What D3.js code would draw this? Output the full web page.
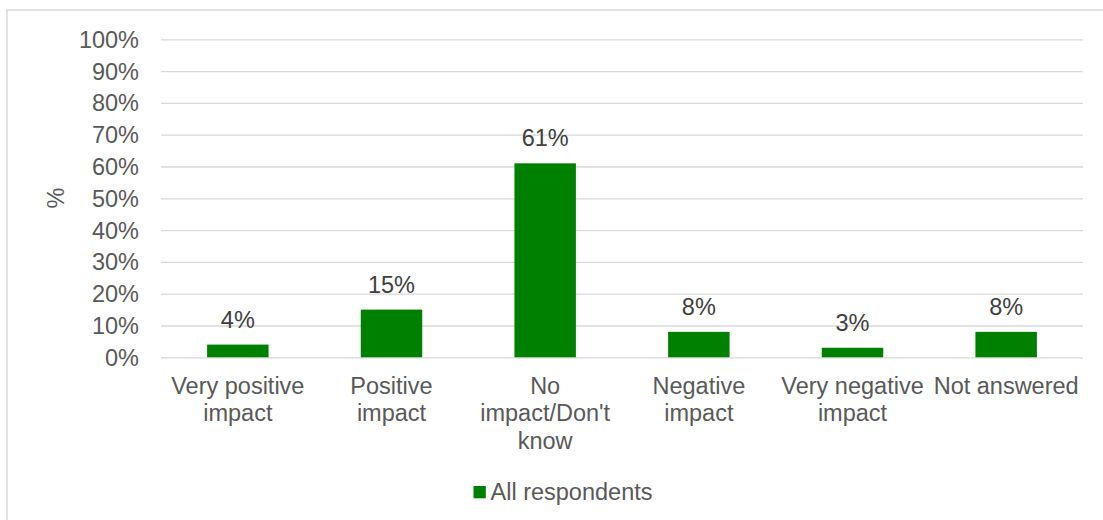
<!DOCTYPE html>
<html>
<head>
<meta charset="utf-8">
<script src="https://cdn.jsdelivr.net/npm/d3@7"></script>
<style>
  html, body { margin: 0; padding: 0; background: #fff; }
  svg { display: block; font-family: "Liberation Sans", Arial, sans-serif; }
</style>
</head>
<body>
<svg id="chart" width="1103" height="520"></svg>
<script>
// Survey responses: share of all respondents per impact category
const categories = [
  ["Very positive", "impact"],
  ["Positive", "impact"],
  ["No", "impact/Don't", "know"],
  ["Negative", "impact"],
  ["Very negative", "impact"],
  ["Not answered"]
];
const values = [4, 15, 61, 8, 3, 8];
const yTicks = [0, 10, 20, 30, 40, 50, 60, 70, 80, 90, 100];
const seriesName = "All respondents";
const yTitle = "%";

const textColor = "#595959";
const gridColor = "#d9d9d9";
const barColor = "#008000";
const fontSize = 23.5;

const svg = d3.select("#chart");

// Chart frame
svg.append("rect")
  .attr("x", 7).attr("y", 10)
  .attr("width", 1110).attr("height", 530)
  .attr("fill", "#fff")
  .attr("stroke", gridColor)
  .attr("stroke-width", 1.5);

const plot = { left: 161, right: 1083, top: 39.3, bottom: 357.3 };

const x = d3.scaleBand()
  .domain(d3.range(categories.length))
  .range([plot.left, plot.right])
  .paddingInner(0.6)
  .paddingOuter(0.3);

const y = d3.scaleLinear()
  .domain([0, 100])
  .range([plot.bottom, plot.top]);

// Horizontal gridlines with percentage labels
const yAxis = d3.axisLeft(y)
  .tickValues(yTicks)
  .tickFormat(d => d + "%")
  .tickSize(-(plot.right - plot.left))
  .tickPadding(22);

const gy = svg.append("g")
  .attr("transform", `translate(${plot.left},0)`)
  .call(yAxis);
gy.select(".domain").remove();
gy.selectAll(".tick line")
  .attr("stroke", gridColor)
  .attr("stroke-width", 1.3);
gy.selectAll(".tick text")
  .attr("fill", textColor)
  .attr("font-size", fontSize)
  .attr("font-family", "Liberation Sans, Arial, sans-serif")
  .attr("dy", "0.34em");

// Bars
svg.append("g")
  .selectAll("rect")
  .data(values)
  .join("rect")
  .attr("x", (d, i) => x(i))
  .attr("y", d => y(d))
  .attr("width", x.bandwidth())
  .attr("height", d => y(0) - y(d))
  .attr("fill", barColor);

// Value labels above bars
svg.append("g")
  .selectAll("text")
  .data(values)
  .join("text")
  .attr("x", (d, i) => x(i) + x.bandwidth() / 2)
  .attr("y", d => y(d) - 17)
  .attr("text-anchor", "middle")
  .attr("fill", "#404040")
  .attr("font-size", fontSize)
  .text(d => d + "%");

// Category labels (wrapped onto multiple lines)
const step = x.step();
const catG = svg.append("g");
categories.forEach((lines, i) => {
  const t = catG.append("text")
    .attr("x", x(i) + x.bandwidth() / 2)
    .attr("y", 393.5)
    .attr("text-anchor", "middle")
    .attr("fill", textColor)
    .attr("font-size", fontSize);
  lines.forEach((ln, j) => {
    t.append("tspan")
      .attr("x", x(i) + x.bandwidth() / 2)
      .attr("dy", j === 0 ? 0 : 27.5)
      .text(ln);
  });
});

// Axis title
svg.append("text")
  .attr("transform", "translate(64,198) rotate(-90)")
  .attr("text-anchor", "middle")
  .attr("fill", textColor)
  .attr("font-size", fontSize)
  .text(yTitle);

// Legend
const legend = svg.append("g");
legend.append("rect")
  .attr("x", 473.5).attr("y", 486)
  .attr("width", 12.3).attr("height", 12.3)
  .attr("fill", barColor);
legend.append("text")
  .attr("x", 490.5).attr("y", 499.5)
  .attr("fill", textColor)
  .attr("font-size", fontSize)
  .text(seriesName);
</script>
</body>
</html>
